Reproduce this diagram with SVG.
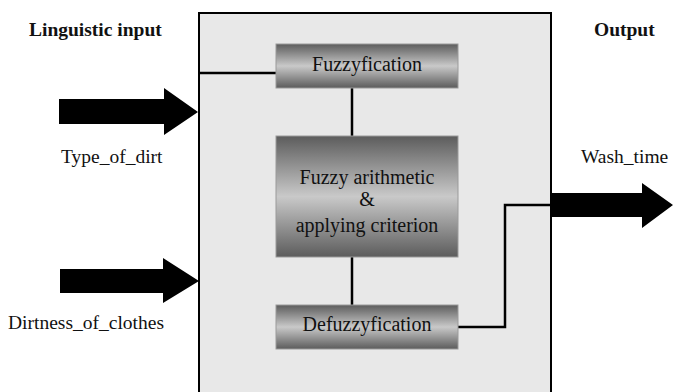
<svg xmlns="http://www.w3.org/2000/svg" width="673" height="392" viewBox="0 0 673 392">
<defs>
<linearGradient id="g" x1="0" y1="0" x2="0" y2="1">
<stop offset="0" stop-color="#5c5c5c"/>
<stop offset="0.5" stop-color="#c9c9c9"/>
<stop offset="1" stop-color="#5c5c5c"/>
</linearGradient>
</defs>
<style>
text{fill:#111;font-family:'Liberation Serif',serif;}
.lbl{font-size:19.5px;}
.hd{font-size:19.5px;font-weight:bold;}
.bx{fill:url(#g);stroke:#9a9a9a;stroke-width:1;}
.bt{font-size:20px;text-anchor:middle;}
.ln{fill:none;stroke:#000;stroke-width:2.5;}
.ar{fill:#000;}
</style>
<rect width="673" height="392" fill="#fff"/>
<g id="system">
<rect x="199" y="13" width="352" height="390" fill="#e8e8e8" stroke="#000" stroke-width="2"/>
</g>
<text class="hd" x="29" y="36" style="font-family:'Liberation Serif',serif">Linguistic input</text>
<text class="hd" x="594" y="36" style="font-family:'Liberation Serif',serif">Output</text>
<g id="connectors">
<path class="ln" d="M199 73 H276"/>
<path class="ln" d="M352 88 V136"/>
<path class="ln" d="M352 257 V305"/>
<path class="ln" d="M458 327 H505 V205 H551"/>
<polygon class="ar" points="59,99 164,99 164,88 198,112 164,135 164,124 59,124"/>
<polygon class="ar" points="60,269 163,269 163,258 199,281 163,303 163,293 60,293"/>
<polygon class="ar" points="551,193 642,193 642,183 673,205 642,228 642,217 551,217"/>
</g>
<g id="input1"><text class="lbl" x="61" y="163" style="font-family:'Liberation Serif',serif">Type_of_dirt</text></g>
<g id="input2"><text class="lbl" x="8" y="329" style="font-family:'Liberation Serif',serif">Dirtness_of_clothes</text></g>
<g id="output1"><text class="lbl" x="581" y="163" style="font-family:'Liberation Serif',serif">Wash_time</text></g>
<g id="fuzzyfication">
<rect class="bx" x="276" y="44" width="182" height="44"/>
<text class="bt" x="367" y="71" style="font-family:'Liberation Serif',serif">Fuzzyfication</text>
</g>
<g id="arithmetic">
<rect class="bx" x="276" y="136" width="182" height="121"/>
<text class="bt" x="367" y="184" style="font-family:'Liberation Serif',serif">Fuzzy arithmetic</text>
<text class="bt" x="367" y="206" style="font-family:'Liberation Serif',serif">&amp;</text>
<text class="bt" x="367" y="232" style="font-family:'Liberation Serif',serif">applying criterion</text>
</g>
<g id="defuzzyfication">
<rect class="bx" x="276" y="305" width="182" height="44"/>
<text class="bt" x="367" y="331" style="font-family:'Liberation Serif',serif">Defuzzyfication</text>
</g>
</svg>
